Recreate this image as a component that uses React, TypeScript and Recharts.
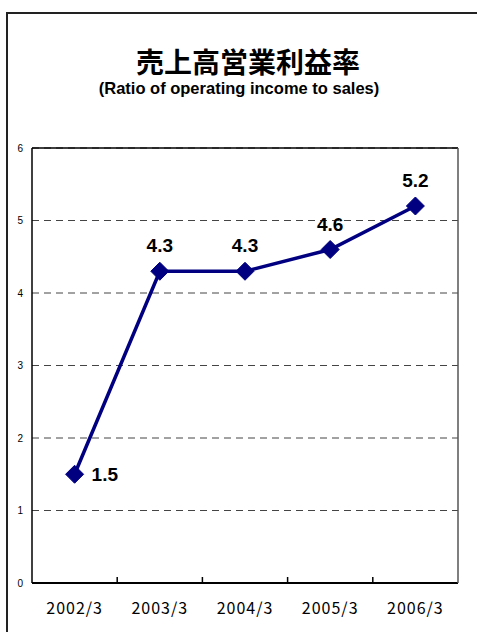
import React from 'react';
import { LineChart, Line, XAxis, YAxis, CartesianGrid } from 'recharts';

const years = ['2002/3', '2003/3', '2004/3', '2005/3', '2006/3'];
const ratios = [1.5, 4.3, 4.3, 4.6, 5.2];
const yTicks = [0, 1, 2, 3, 4, 5, 6];
const boundaryTicks = [1, 2, 3, 4];

const data = years.map((year, i) => ({ year, ratio: ratios[i], slot: i + 0.5 }));

const NAVY = '#000080';

function Diamond(props: any) {
  const { cx, cy } = props;
  if (cx == null || cy == null) return null;
  const r = 9;
  return (
    <polygon
      points={`${cx},${cy - r} ${cx + r},${cy} ${cx},${cy + r} ${cx - r},${cy}`}
      fill={NAVY}
      stroke={NAVY}
    />
  );
}

function ValueLabel(props: any) {
  const { x, y, value, index } = props;
  const first = index === 0;
  return (
    <text
      x={first ? x + 17 : x}
      y={first ? y + 7 : y - 19}
      textAnchor={first ? 'start' : 'middle'}
      fontFamily="'Liberation Sans', Arial, sans-serif"
      fontWeight="bold"
      fontSize={19}
      fill="#000"
    >
      {value.toFixed(1)}
    </text>
  );
}

const NoText = () => <g />;

export default function App() {
  return (
    <div style={{ position: 'absolute', left: 0, top: 0, width: 477, height: 632, overflow: 'hidden', background: '#fff' }}>
      <div style={{ position: 'absolute', left: 6, top: 12, width: 520, height: 700, border: '2px solid #222' }} />
      <div
        style={{
          position: 'absolute', left: 0, top: 44, width: 496, textAlign: 'center',
          fontFamily: "'Noto Sans CJK JP', sans-serif", fontWeight: 'bold', fontSize: 28, lineHeight: '34px',
        }}
      >
        売上高営業利益率
      </div>
      <div
        style={{
          position: 'absolute', left: 0, top: 78, width: 478, textAlign: 'center',
          fontFamily: "'Liberation Sans', Arial, sans-serif", fontWeight: 'bold', fontSize: 16.5, lineHeight: '20px',
        }}
      >
        (Ratio of operating income to sales)
      </div>
      <div style={{ position: 'absolute', left: 0, top: 0 }}>
        <LineChart width={477} height={632} data={data} margin={{ top: 147, right: 18, bottom: 0, left: 0 }}>
          <CartesianGrid vertical={false} stroke="#444" strokeDasharray="7 5" />
          <XAxis
            xAxisId="slots"
            dataKey="slot"
            type="number"
            domain={[0, 5]}
            ticks={boundaryTicks}
            interval={0}
            mirror
            height={1}
            tickSize={6}
            tick={NoText}
            axisLine={false}
            tickLine={{ stroke: '#000', strokeWidth: 1.5 }}
          />
          <XAxis
            dataKey="year"
            type="category"
            padding={{ left: 42.6, right: 42.6 }}
            axisLine={{ stroke: '#000', strokeWidth: 2 }}
            tickLine={false}
            tickSize={0}
            tickMargin={20}
            height={49}
            interval={0}
            tick={{ fill: '#000', fontSize: 16, fontFamily: "'Noto Sans CJK JP', sans-serif", letterSpacing: 1 }}
          />
          <XAxis
            xAxisId="top"
            orientation="top"
            dataKey="year"
            height={1}
            tick={false}
            tickLine={false}
            axisLine={{ stroke: '#000', strokeWidth: 1.5 }}
          />
          <YAxis
            domain={[0, 6]}
            ticks={yTicks}
            width={32}
            tickLine={false}
            tickSize={0}
            tickMargin={9}
            axisLine={{ stroke: '#000', strokeWidth: 1.5 }}
            tick={{ fill: '#000', fontSize: 10, fontFamily: "'Liberation Sans', Arial, sans-serif" }}
          />
          <YAxis
            yAxisId="right"
            orientation="right"
            domain={[0, 6]}
            width={1}
            tick={false}
            tickLine={false}
            axisLine={{ stroke: '#555', strokeWidth: 1.5 }}
          />
          <Line xAxisId="slots" yAxisId="right" dataKey="ratio" stroke="none" dot={false} activeDot={false} isAnimationActive={false} />
          <Line xAxisId="top" yAxisId="right" dataKey="ratio" stroke="none" dot={false} activeDot={false} isAnimationActive={false} />
          <Line
            dataKey="ratio"
            stroke={NAVY}
            strokeWidth={3.5}
            dot={<Diamond />}
            activeDot={false}
            label={<ValueLabel />}
            isAnimationActive={false}
          />
        </LineChart>
      </div>
    </div>
  );
}
